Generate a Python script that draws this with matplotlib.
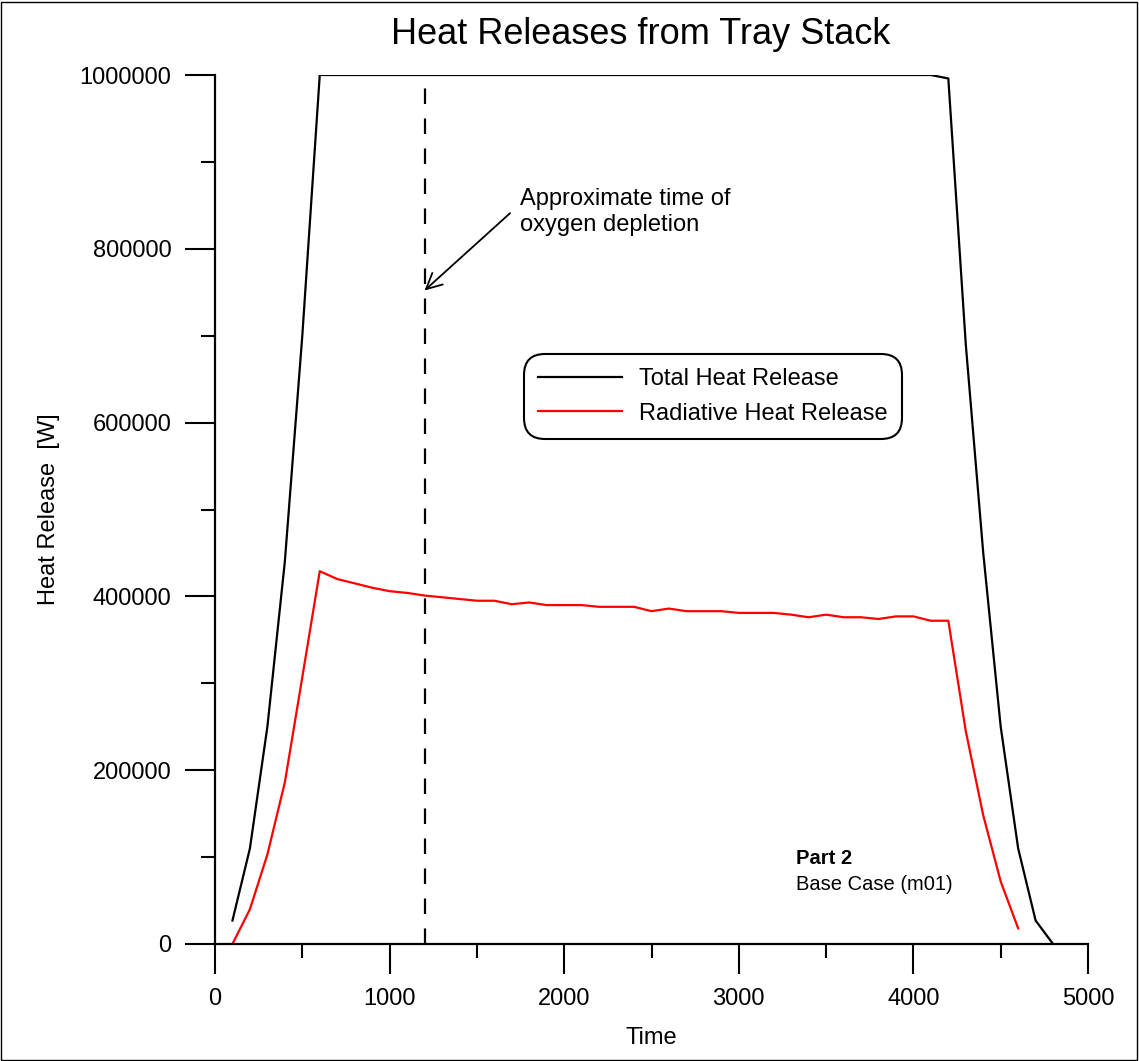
import matplotlib
matplotlib.use("Agg")
import matplotlib.pyplot as plt
from matplotlib.patches import Rectangle
from matplotlib.ticker import MultipleLocator

plt.rcParams['font.family'] = ['Liberation Sans', 'DejaVu Sans']

# ---- data ----
total_time = [100, 200, 300, 400, 500, 600, 700, 800, 900, 1000, 1500, 2000, 2500,
              3000, 3500, 4000, 4100, 4200, 4300, 4400, 4500, 4600, 4700, 4800]
total_hrr = [27000, 110000, 250000, 440000, 700000, 1000000, 1000000, 1000000, 1000000,
             1000000, 1000000, 1000000, 1000000, 1000000, 1000000, 1000000, 1000000,
             996000, 690000, 450000, 250000, 110000, 27000, 0]

rad_time = [100, 200, 300, 400, 500, 600, 700, 800, 900, 1000, 1100, 1200, 1300, 1400,
            1500, 1600, 1700, 1800, 1900, 2000, 2100, 2200, 2300, 2400, 2500, 2600,
            2700, 2800, 2900, 3000, 3100, 3200, 3300, 3400, 3500, 3600, 3700, 3800,
            3900, 4000, 4100, 4200, 4300, 4400, 4500, 4600]
rad_hrr = [0, 40000, 103000, 186000, 307000, 429000, 420000, 415000, 410000, 406000,
           404000, 401000, 399000, 397000, 395000, 395000, 391000, 393000, 390000,
           390000, 390000, 388000, 388000, 388000, 383000, 386000, 383000, 383000,
           383000, 381000, 381000, 381000, 379000, 376000, 379000, 376000, 376000,
           374000, 377000, 377000, 372000, 372000, 245000, 148000, 72000, 18000]

depletion_time = 1200
depletion_top = 985000
arrow_tip = (1200, 752000)
arrow_tail = (1690, 841000)

x_ticks = [0, 1000, 2000, 3000, 4000, 5000]
y_ticks = [0, 200000, 400000, 600000, 800000, 1000000]

W, H = 1139, 1061
FS = 17
fig = plt.figure(figsize=(W / 100, H / 100), dpi=100)
ax = fig.add_axes([215 / W, 1 - 944 / H, (1088 - 215) / W, (944 - 75) / H])

ax.plot(total_time, total_hrr, color='black', lw=1.6, label='Total Heat Release')
ax.plot(rad_time, rad_hrr, color='#ff0000', lw=1.6, label='Radiative Heat Release')
ax.plot([depletion_time, depletion_time], [0, depletion_top], color='black', lw=1.6,
        dashes=(7, 6.5))

ax.set_xlim(0, 5000)
ax.set_ylim(0, 1000000)
ax.set_xticks(x_ticks)
ax.set_yticks(y_ticks)
ax.set_xticklabels([str(v) for v in x_ticks])
ax.set_yticklabels([str(v) for v in y_ticks])
ax.xaxis.set_minor_locator(MultipleLocator(500))
ax.yaxis.set_minor_locator(MultipleLocator(100000))

for s in ['top', 'right']:
    ax.spines[s].set_visible(False)
for s in ['left', 'bottom']:
    ax.spines[s].set_linewidth(1.6)

ax.tick_params(which='major', direction='out', length=21.5, width=1.5, labelsize=FS, pad=10)
ax.tick_params(which='minor', direction='out', length=10, width=1.5)
ax.tick_params(axis='x', which='major', pad=10)

ax.set_xlabel('Time', fontsize=FS)
ax.set_ylabel('Heat Release  [W]', fontsize=FS)
ax.xaxis.set_label_coords((651 - 215) / (1088 - 215), -(1027 - 944) / (944 - 75))
ax.yaxis.set_label_coords(-(215 - 60) / (1088 - 215), 0.5)

fig.text(641 / W, 1 - 35 / H, 'Heat Releases from Tray Stack', fontsize=26,
         ha='center', va='center')

fig.text(520 / W, 1 - 212 / H, 'Approximate time of\noxygen depletion', fontsize=FS,
         ha='left', va='center', linespacing=1.22)
ax.annotate('', xy=arrow_tip, xytext=arrow_tail,
            arrowprops=dict(arrowstyle='->', color='black', lw=1.3,
                            mutation_scale=28, shrinkA=0, shrinkB=0))

leg = ax.legend(loc='center', bbox_to_anchor=(713 / W, 1 - 396.5 / H),
                bbox_transform=fig.transFigure, fontsize=FS, frameon=True,
                fancybox=True, framealpha=1, edgecolor='black',
                handlelength=3.55, handletextpad=0.75, borderpad=0.35,
                labelspacing=0.52, borderaxespad=0)
leg.get_frame().set_linewidth(1.5)
leg.get_frame().set_boxstyle('round,pad=0.25,rounding_size=0.9')

fig.text(796 / W, 1 - 858 / H, 'Part 2', fontsize=14.5, fontweight='bold',
         ha='left', va='center')
fig.text(796 / W, 1 - 884 / H, 'Base Case (m01)', fontsize=14.5,
         ha='left', va='center')

fig.patches.append(Rectangle((1 / W, 1 / H), (W - 3) / W, (H - 3) / H,
                             transform=fig.transFigure, fill=False,
                             edgecolor='black', lw=1.0))

fig.savefig('out.png', dpi=100)
